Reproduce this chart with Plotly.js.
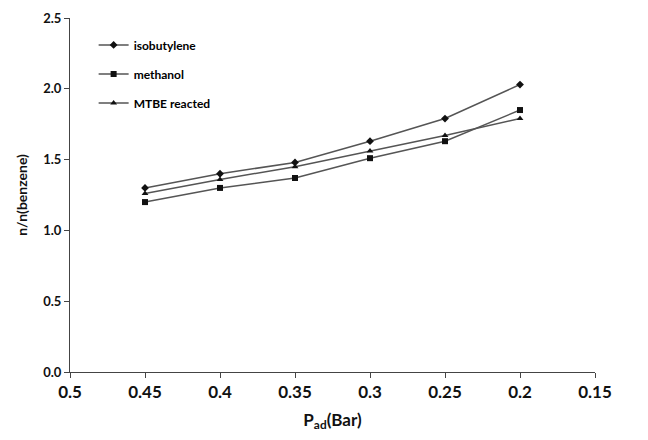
<!DOCTYPE html>
<html>
<head>
<meta charset="utf-8">
<script src="https://cdn.plot.ly/plotly-3.0.1.min.js"></script>
<style>html,body{margin:0;padding:0;background:#fff}#chart{width:648px;height:440px}</style>
</head>
<body>
<div id="chart"></div>
<script>
var pressure = [0.45, 0.4, 0.35, 0.3, 0.25, 0.2];
var isobutylene = [1.30, 1.40, 1.48, 1.63, 1.79, 2.03];
var methanol = [1.20, 1.30, 1.37, 1.51, 1.63, 1.85];
var mtbeReacted = [1.26, 1.36, 1.45, 1.56, 1.67, 1.79];
var xTickVals = [0.5, 0.45, 0.4, 0.35, 0.3, 0.25, 0.2, 0.15];
var xTickText = ["0.5", "0.45", "0.4", "0.35", "0.3", "0.25", "0.2", "0.15"];
var seriesNames = ["isobutylene", "methanol", "MTBE reacted"];

var font = "Lato, 'Open Sans', sans-serif";
function tr(name, y, sym, size) {
  return {
    x: pressure, y: y, name: name, type: "scatter", mode: "lines+markers",
    line: {color: "#555555", width: 1.5},
    marker: {symbol: sym, size: size, color: "#111111"},
    legendgroup: name
  };
}
var data = [
  tr(seriesNames[0], isobutylene, "diamond", 6),
  tr(seriesNames[1], methanol, "square", 6),
  tr(seriesNames[2], mtbeReacted, "triangle-up", 6)
];
var layout = {
  width: 648, height: 440,
  margin: {l: 70, r: 53, t: 18, b: 68},
  paper_bgcolor: "#fff", plot_bgcolor: "#fff",
  font: {family: font, color: "#111"},
  showlegend: true,
  legend: {x: 0.045, y: 0.965, xanchor: "left", yanchor: "top",
           font: {family: font, size: 12, color: "#000", weight: "bold"},
           tracegroupgap: 10, bgcolor: "rgba(0,0,0,0)", itemwidth: 30},
  xaxis: {
    range: [0.5, 0.15], tickvals: xTickVals, ticktext: xTickText,
    showgrid: false, zeroline: false, showline: true, linecolor: "#444", linewidth: 1,
    ticks: "outside", ticklen: 5, tickcolor: "#444",
    tickfont: {family: font, size: 17, color: "#111", weight: "bold"},
    title: {text: "P<sub>ad</sub>(Bar)", font: {family: font, size: 17, color: "#111", weight: "bold"}, standoff: 12}
  },
  yaxis: {
    range: [0, 2.5], dtick: 0.5, tickformat: ".1f",
    showgrid: false, zeroline: false, showline: true, linecolor: "#444", linewidth: 1,
    ticks: "outside", ticklen: 5, tickcolor: "#444",
    tickfont: {family: font, size: 13, color: "#111", weight: "bold"},
    title: {text: "n/n(benzene)", font: {family: font, size: 14, color: "#111", weight: "bold"}, standoff: 12}
  }
};
Plotly.newPlot("chart", data, layout, {displayModeBar: false, staticPlot: true});
</script>
</body>
</html>
